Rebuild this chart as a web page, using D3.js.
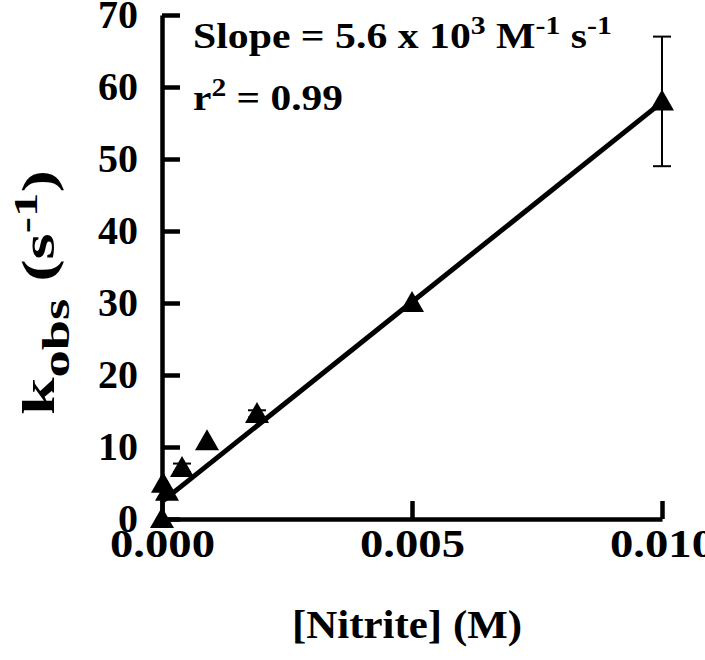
<!DOCTYPE html>
<html lang="en">
<head>
<meta charset="utf-8">
<title>kobs vs Nitrite</title>
<script src="https://d3js.org/d3.v7.min.js"></script>
<style>
  body { margin: 0; background: #fff; }
  text { font-family: "Liberation Serif", "Times New Roman", serif; font-weight: bold; fill: #000; }
</style>
</head>
<body>
<div id="chart"></div>
<script>
// data
var nitrite = [0, 0.00002, 0.0001, 0.0004, 0.0009, 0.0019, 0.005, 0.010];
var kobs    = [0, 4.9, 3.8, 7.1, 10.8, 14.6, 30.0, 58.0];
var kerr    = [0, 0, 0, 0.6, 0, 0.5, 0, 9.0];
var xTicks = [0, 0.005, 0.010];
var yTicks = [0, 10, 20, 30, 40, 50, 60, 70];
// linear fit shown on the plot
var fitSlope = 5550, fitIntercept = 2.4;
var fitRange = [0.00002, 0.0099];

var w = 705, h = 660;
var svg = d3.select("#chart").append("svg")
    .attr("width", w).attr("height", h);

var x = d3.scaleLinear().domain([0, 0.010]).range([162, 662]);
var y = d3.scaleLinear().domain([0, 70]).range([519, 15]);

// the lettering in the figure is a bit wide, so stretch a text to a width
function stretch(node, width) {
  var nat = node.getBBox().width;
  d3.select(node).attr("transform", "scale(" + (width / nat) + ",1)");
}

// axes, ticks pointing inward
var yAxis = svg.append("g")
    .attr("transform", "translate(" + x(0) + ",0)")
    .call(d3.axisLeft(y).tickValues(yTicks).tickFormat(d3.format("d"))
        .tickSizeInner(-18).tickSizeOuter(0).tickPadding(24));
var xAxis = svg.append("g")
    .attr("transform", "translate(0," + y(0) + ")")
    .call(d3.axisBottom(x).tickValues(xTicks).tickFormat(d3.format(".3f"))
        .tickSizeInner(-18).tickSizeOuter(0).tickPadding(10));

[yAxis, xAxis].forEach(function(a) {
  a.select(".domain").attr("stroke", "#000").attr("stroke-width", 4.5);
  a.selectAll(".tick line").attr("stroke", "#000").attr("stroke-width", 4.5);
  a.selectAll(".tick text")
    .style("font-family", "'Liberation Serif', serif").style("font-weight", "bold");
});
yAxis.selectAll(".tick text").style("font-size", "40px");
xAxis.selectAll(".tick text").style("font-size", "40px")
    .each(function() { stretch(this, 105); });

// fit line
svg.append("line")
    .attr("x1", x(fitRange[0])).attr("y1", y(fitSlope * fitRange[0] + fitIntercept))
    .attr("x2", x(fitRange[1])).attr("y2", y(fitSlope * fitRange[1] + fitIntercept))
    .attr("stroke", "#000").attr("stroke-width", 5);

var pts = nitrite.map(function(d, i) { return {x: d, y: kobs[i], e: kerr[i]}; });

// error bars
var eb = svg.append("g").selectAll("g")
    .data(pts.filter(function(d) { return d.e > 0; }))
    .enter().append("g");
eb.append("line")
    .attr("x1", function(d) { return x(d.x); }).attr("x2", function(d) { return x(d.x); })
    .attr("y1", function(d) { return y(d.y - d.e); }).attr("y2", function(d) { return y(d.y + d.e); })
    .attr("stroke", "#000").attr("stroke-width", 2);
[-1, 1].forEach(function(s) {
  eb.append("line")
    .attr("x1", function(d) { return x(d.x) - 9; }).attr("x2", function(d) { return x(d.x) + 9; })
    .attr("y1", function(d) { return y(d.y + s * d.e); }).attr("y2", function(d) { return y(d.y + s * d.e); })
    .attr("stroke", "#000").attr("stroke-width", 2);
});

// triangle markers
svg.append("g").selectAll("path")
    .data(pts).enter().append("path")
    .attr("d", "M0,-12 L12,9 L-12,9 Z")
    .attr("transform", function(d) { return "translate(" + x(d.x) + "," + y(d.y) + ")"; })
    .attr("fill", "#000");

// axis titles
var xt = svg.append("g").attr("transform", "translate(407,638)")
  .append("text")
    .attr("text-anchor", "middle")
    .style("font-size", "40px")
    .text("[Nitrite] (M)");
stretch(xt.node(), 230);

var yl = svg.append("g").attr("transform", "translate(54,415) rotate(-90)")
  .append("text")
    .style("font-size", "47px");
yl.append("tspan").text("k");
yl.append("tspan").attr("dy", 15).style("font-size", "38px").text("obs");
yl.append("tspan").attr("dy", -15).text(" (s");
yl.append("tspan").attr("dy", -17).style("font-size", "34px").text("-1");
yl.append("tspan").attr("dy", 17).text(")");
stretch(yl.node(), 245);

// fit annotation
var t1 = svg.append("g").attr("transform", "translate(193,48)")
  .append("text").style("font-size", "35px");
t1.append("tspan").text("Slope = 5.6 x 10");
t1.append("tspan").attr("dy", -14).style("font-size", "25px").text("3");
t1.append("tspan").attr("dy", 14).text(" M");
t1.append("tspan").attr("dy", -14).style("font-size", "25px").text("-1");
t1.append("tspan").attr("dy", 14).text(" s");
t1.append("tspan").attr("dy", -14).style("font-size", "25px").text("-1");
stretch(t1.node(), 419);

var t2 = svg.append("g").attr("transform", "translate(193,110)")
  .append("text").style("font-size", "35px");
t2.append("tspan").text("r");
t2.append("tspan").attr("dy", -14).style("font-size", "25px").text("2");
t2.append("tspan").attr("dy", 14).text(" = 0.99");
stretch(t2.node(), 150);
</script>
</body>
</html>
